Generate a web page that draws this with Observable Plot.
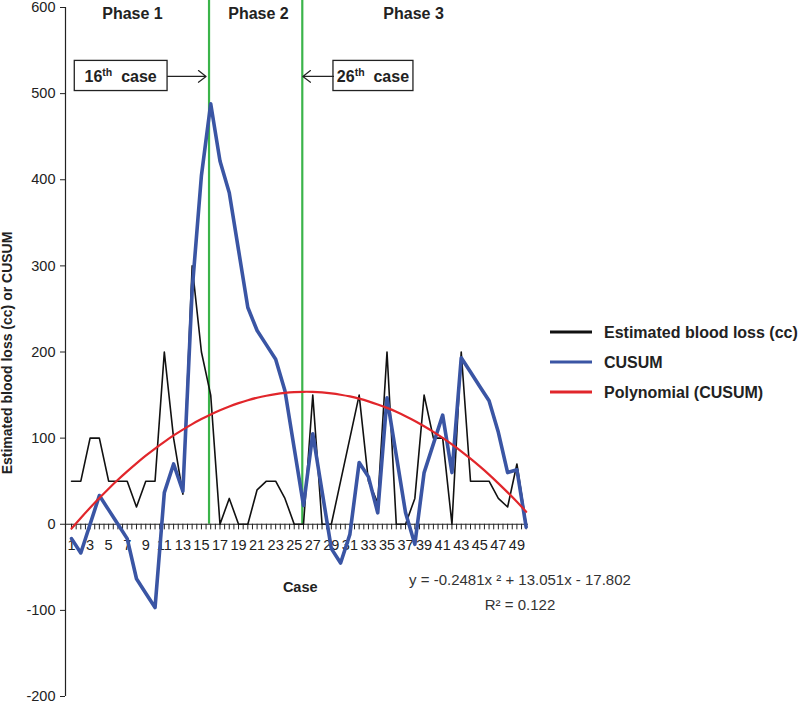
<!DOCTYPE html>
<html><head><meta charset="utf-8">
<script src="https://cdn.jsdelivr.net/npm/d3@7"></script>
<script src="https://cdn.jsdelivr.net/npm/@observablehq/plot@0.6"></script>
<style>
body{margin:0;background:#fff;}
#chart svg{display:block;}
</style>
</head><body><div id="chart"></div>
<script>
// ---- data ----
const cases = [1,2,3,4,5,6,7,8,9,10,11,12,13,14,15,16,17,18,19,20,21,22,23,24,25,
  26,27,28,29,30,31,32,33,34,35,36,37,38,39,40,41,42,43,44,45,46,47,48,49,50];
const bloodLoss = [50,50,100,100,50,50,50,20,50,50,200,100,35,300,200,150,0,30,0,0,
  40,50,50,30,0,0,150,0,0,50,100,150,50,25,200,0,0,30,150,100,100,0,200,50,50,50,30,20,70,0];
const cusum = [-16.7,-33.3,0,33.3,16.7,0,-16.7,-63.3,-80,-96.7,36.7,70,38.3,271.7,405,488.3,
  421.7,385,318.3,251.7,225,208.3,191.7,155,88.3,21.7,105,38.3,-28.3,-45,-11.7,71.7,55,13.3,
  146.7,80,13.3,-23.3,60,93.3,126.7,60,193.3,176.7,160,143.3,106.7,60,63.3,-3.3];
const polynomial = [-5.0,7.3,19.1,30.4,41.3,51.6,61.4,70.7,79.6,87.9,95.7,103.1,109.9,116.3,
  122.1,127.5,132.4,136.7,140.6,144.0,146.9,149.2,151.1,152.5,153.4,153.8,153.7,153.1,152.0,
  150.4,148.4,145.8,142.7,139.1,135.1,130.5,125.4,119.9,113.8,107.3,100.2,92.7,84.7,76.1,
  67.1,57.6,47.5,37.0,26.0,14.5];
const phaseBoundaries = [15.82, 25.87];
const phaseNames = ["Phase 1", "Phase 2", "Phase 3"];
const yTicks = [-200,-100,0,100,200,300,400,500,600];
const xTickLabels = [1,3,5,7,9,11,13,15,17,19,21,23,25,27,29,31,33,35,37,39,41,43,45,47,49];
const seriesNames = ["Estimated blood loss (cc)", "CUSUM", "Polynomial (CUSUM)"];
const equationText = "y = -0.2481x \u00B2 + 13.051x - 17.802";
const r2Text = "R\u00B2 = 0.122";

// ---- style ----
const BLACK = "#111111", BLUE = "#3a55a4", RED = "#e1262b", GREEN = "#3bb44a";
const FONT = "'Liberation Sans', Arial, Helvetica, sans-serif";
const X0 = 0.35, X1 = 50.25;

const rows = cases.map((c, i) => ({c, loss: bloodLoss[i], cusum: cusum[i], poly: polynomial[i]}));
const minorTicks = d3.range(1, 50.01, 0.5);

const chart = Plot.plot({
  width: 800, height: 703,
  marginLeft: 65, marginRight: 272, marginTop: 7, marginBottom: 7,
  style: {fontFamily: FONT, fontSize: "15px", color: "#222", background: "#fff"},
  x: {domain: [X0, X1], axis: null},
  y: {domain: [-200, 600], axis: null},
  marks: [
    Plot.axisY({ticks: yTicks, tickSize: 5, tickPadding: 5, label: null, fontSize: 14.5, tickFormat: d => String(d)}),
    Plot.ruleX([X0], {y1: -200, y2: 600, stroke: "#222", strokeWidth: 1.2}),
    Plot.ruleX(phaseBoundaries, {y1: 0, y2: 610, stroke: GREEN, strokeWidth: 2.2}),
    Plot.ruleY([0], {x1: X0, x2: X1, stroke: "#222", strokeWidth: 1.2}),
    Plot.ruleX(minorTicks, {y1: 0, y2: -6.5, stroke: "#222", strokeWidth: 1}),
    Plot.text(xTickLabels, {x: d => d, y: 0, dy: 21, text: d => String(d), fontSize: 14.5, fill: "#222"}),
    Plot.line(rows, {x: "c", y: "loss", stroke: BLACK, strokeWidth: 1.6}),
    Plot.line(rows, {x: "c", y: "cusum", stroke: BLUE, strokeWidth: 3.6, strokeLinejoin: "round"}),
    Plot.line(rows, {x: "c", y: "poly", stroke: RED, strokeWidth: 2.2, curve: "natural"}),
    // annotation boxes
    Plot.rect([{x1: 1.35, x2: 11.35, y1: 503, y2: 538}, {x1: 29.23, x2: 37.85, y1: 503, y2: 538}],
      {x1: "x1", x2: "x2", y1: "y1", y2: "y2", fill: "#fff", stroke: "#222", strokeWidth: 1.3}),
    Plot.arrow([{x1: 11.35, x2: 15.5, y: 520}, {x1: 29.23, x2: 25.93, y: 520}],
      {x1: "x1", x2: "x2", y1: "y", y2: "y", stroke: "#222", strokeWidth: 1.2, headLength: 12, headAngle: 75}),
    Plot.text(phaseNames, {x: (d, i) => [7.57, 21.15, 37.86][i], y: 593, text: d => d,
      fontWeight: "bold", fontSize: 16, fill: "#222"})
  ]
});
document.getElementById("chart").appendChild(chart);

const sx = chart.scale("x"), sy = chart.scale("y");
const svg = d3.select(chart);

// box labels with superscripts
function caseLabel(num, cx) {
  const t = svg.append("text").attr("x", sx.apply(cx)).attr("y", sy.apply(513))
    .attr("text-anchor", "middle").attr("font-family", FONT).attr("font-size", 16)
    .attr("font-weight", "bold").attr("fill", "#222");
  t.append("tspan").text(num);
  t.append("tspan").attr("font-size", 10.5).attr("dy", -6).text("th");
  t.append("tspan").attr("dy", 6).text("\u00A0 case");
}
caseLabel("16", 6.35);
caseLabel("26", 33.54);

// axis titles
svg.append("text").attr("transform", "translate(12,353) rotate(-90)").attr("text-anchor", "middle")
  .attr("font-family", FONT).attr("font-size", 14).attr("font-weight", "bold").attr("fill", "#222")
  .text("Estimated blood loss (cc) or CUSUM");
svg.append("text").attr("x", sx.apply(25.7)).attr("y", 592).attr("text-anchor", "middle")
  .attr("font-family", FONT).attr("font-size", 14.5).attr("font-weight", "bold").attr("fill", "#222")
  .text("Case");

// trendline equation
svg.append("text").attr("x", 520).attr("y", 585).attr("text-anchor", "middle")
  .attr("font-family", FONT).attr("font-size", 15).attr("fill", "#333").text(equationText);
svg.append("text").attr("x", 520).attr("y", 610).attr("text-anchor", "middle")
  .attr("font-family", FONT).attr("font-size", 15).attr("fill", "#333").text(r2Text);

// legend
const legColors = [BLACK, BLUE, RED];
seriesNames.forEach((name, i) => {
  const y = 332 + i * 30;
  svg.append("line").attr("x1", 550).attr("x2", 592).attr("y1", y).attr("y2", y)
    .attr("stroke", legColors[i]).attr("stroke-width", 3.2);
  svg.append("text").attr("x", 604).attr("y", y + 5.5).attr("text-anchor", "start")
    .attr("font-family", FONT).attr("font-size", 16).attr("font-weight", "bold")
    .attr("fill", "#222").text(name);
});
</script>
</body></html>
